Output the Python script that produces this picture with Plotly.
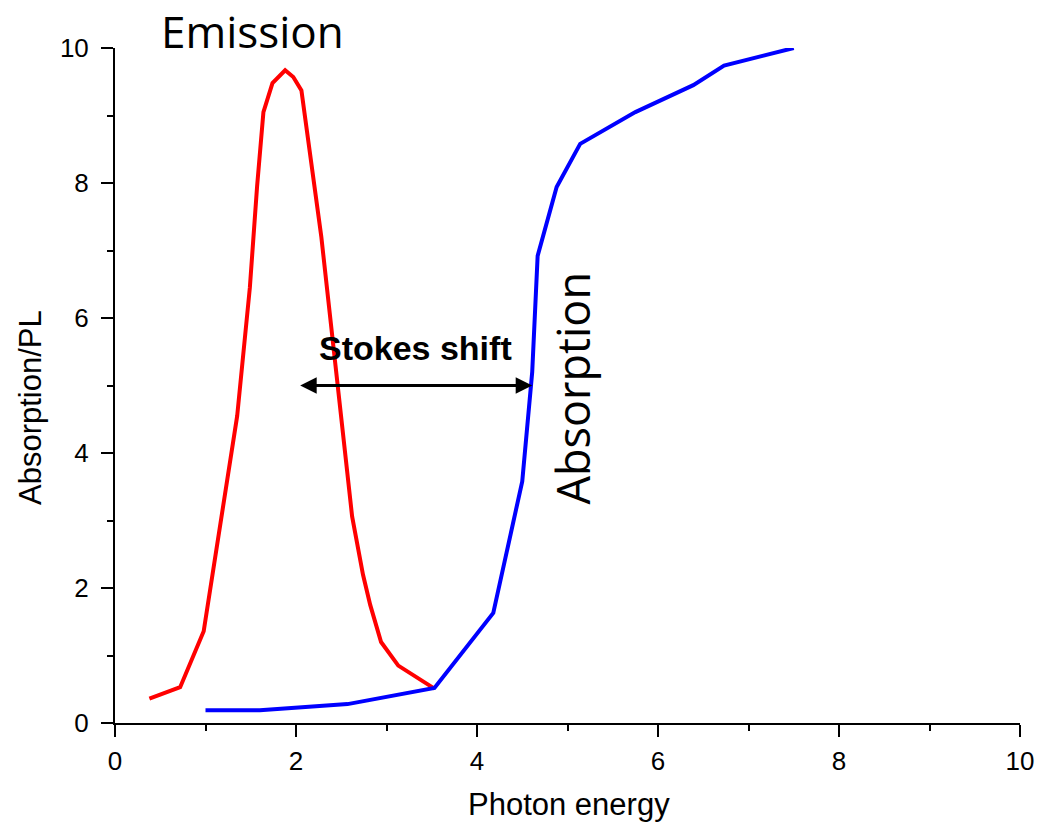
import plotly.graph_objects as go

# Emission (PL) curve
em_x = [0.38, 0.72, 0.98, 1.35, 1.49, 1.57, 1.64, 1.74, 1.88, 1.97, 2.06, 2.19, 2.28, 2.62, 2.74, 2.82, 2.94, 3.13, 3.53]
em_y = [0.36, 0.53, 1.36, 4.55, 6.45, 7.95, 9.05, 9.48, 9.67, 9.57, 9.37, 8.10, 7.20, 3.06, 2.20, 1.75, 1.20, 0.85, 0.51]

# Absorption curve
ab_x = [1.0, 1.6, 2.57, 3.53, 4.18, 4.50, 4.61, 4.67, 4.88, 5.14, 5.75, 6.39, 6.73, 7.50]
ab_y = [0.19, 0.19, 0.28, 0.52, 1.63, 3.58, 5.20, 6.92, 7.94, 8.58, 9.05, 9.45, 9.74, 10.0]

# Stokes shift arrow
arrow_x = [2.03, 4.61]
arrow_y = 5.0

x_range = [0, 10]
y_range = [0, 10]

fig = go.Figure()
fig.add_trace(go.Scatter(x=em_x, y=em_y, mode="lines", line=dict(color="#FF0000", width=4),
                         name="Emission", showlegend=False))
fig.add_trace(go.Scatter(x=ab_x, y=ab_y, mode="lines", line=dict(color="#0000FF", width=4),
                         name="Absorption", showlegend=False))

axis_common = dict(
    showline=True, linecolor="black", linewidth=2,
    ticks="outside", ticklen=12, tickwidth=2, tickcolor="black",
    showgrid=False, zeroline=False, dtick=2,
    minor=dict(ticks="outside", ticklen=6, tickwidth=2, tickcolor="black", dtick=1, showgrid=False),
    tickfont=dict(family="Liberation Sans, Arial", size=26, color="black"),
)

fig.update_layout(
    width=1046, height=829,
    margin=dict(l=115, r=21, t=48, b=106),
    paper_bgcolor="white", plot_bgcolor="white",
    xaxis=dict(range=x_range, ticklabelstandoff=2, **axis_common),
    yaxis=dict(range=y_range, ticklabelstandoff=7, **axis_common),
    annotations=[
        # Stokes shift double arrow
        dict(x=arrow_x[1], y=arrow_y, ax=arrow_x[0], ay=arrow_y, xref="x", yref="y",
             axref="x", ayref="y", text="", showarrow=True, arrowhead=2, arrowside="end+start",
             arrowsize=1.1, arrowwidth=3, arrowcolor="black", standoff=0, startstandoff=0),
        dict(x=3.32, y=5.55, xref="x", yref="y", text="<b>Stokes shift</b>", showarrow=False,
             font=dict(family="Liberation Sans, Arial", size=34, color="black"),
             xanchor="center", yanchor="middle"),
        dict(x=0.1518, y=1.025, xref="paper", yref="paper", text="Emission", showarrow=False,
             font=dict(family="Open Sans", size=44, color="black"),
             xanchor="center", yanchor="middle"),
        dict(x=5.06, y=4.97, xref="x", yref="y", text="Absorption", showarrow=False, textangle=-90,
             font=dict(family="Open Sans", size=45, color="black"),
             xanchor="center", yanchor="middle"),
        # axis titles
        dict(x=0.502, y=-0.121, xref="paper", yref="paper", text="Photon energy", showarrow=False,
             font=dict(family="Liberation Sans, Arial", size=31, color="black"),
             xanchor="center", yanchor="middle"),
        dict(x=-0.094, y=0.468, xref="paper", yref="paper", text="Absorption/PL", showarrow=False,
             textangle=-90, font=dict(family="Liberation Sans, Arial", size=31, color="black"),
             xanchor="center", yanchor="middle"),
    ],
)

fig.write_html("out.html")
